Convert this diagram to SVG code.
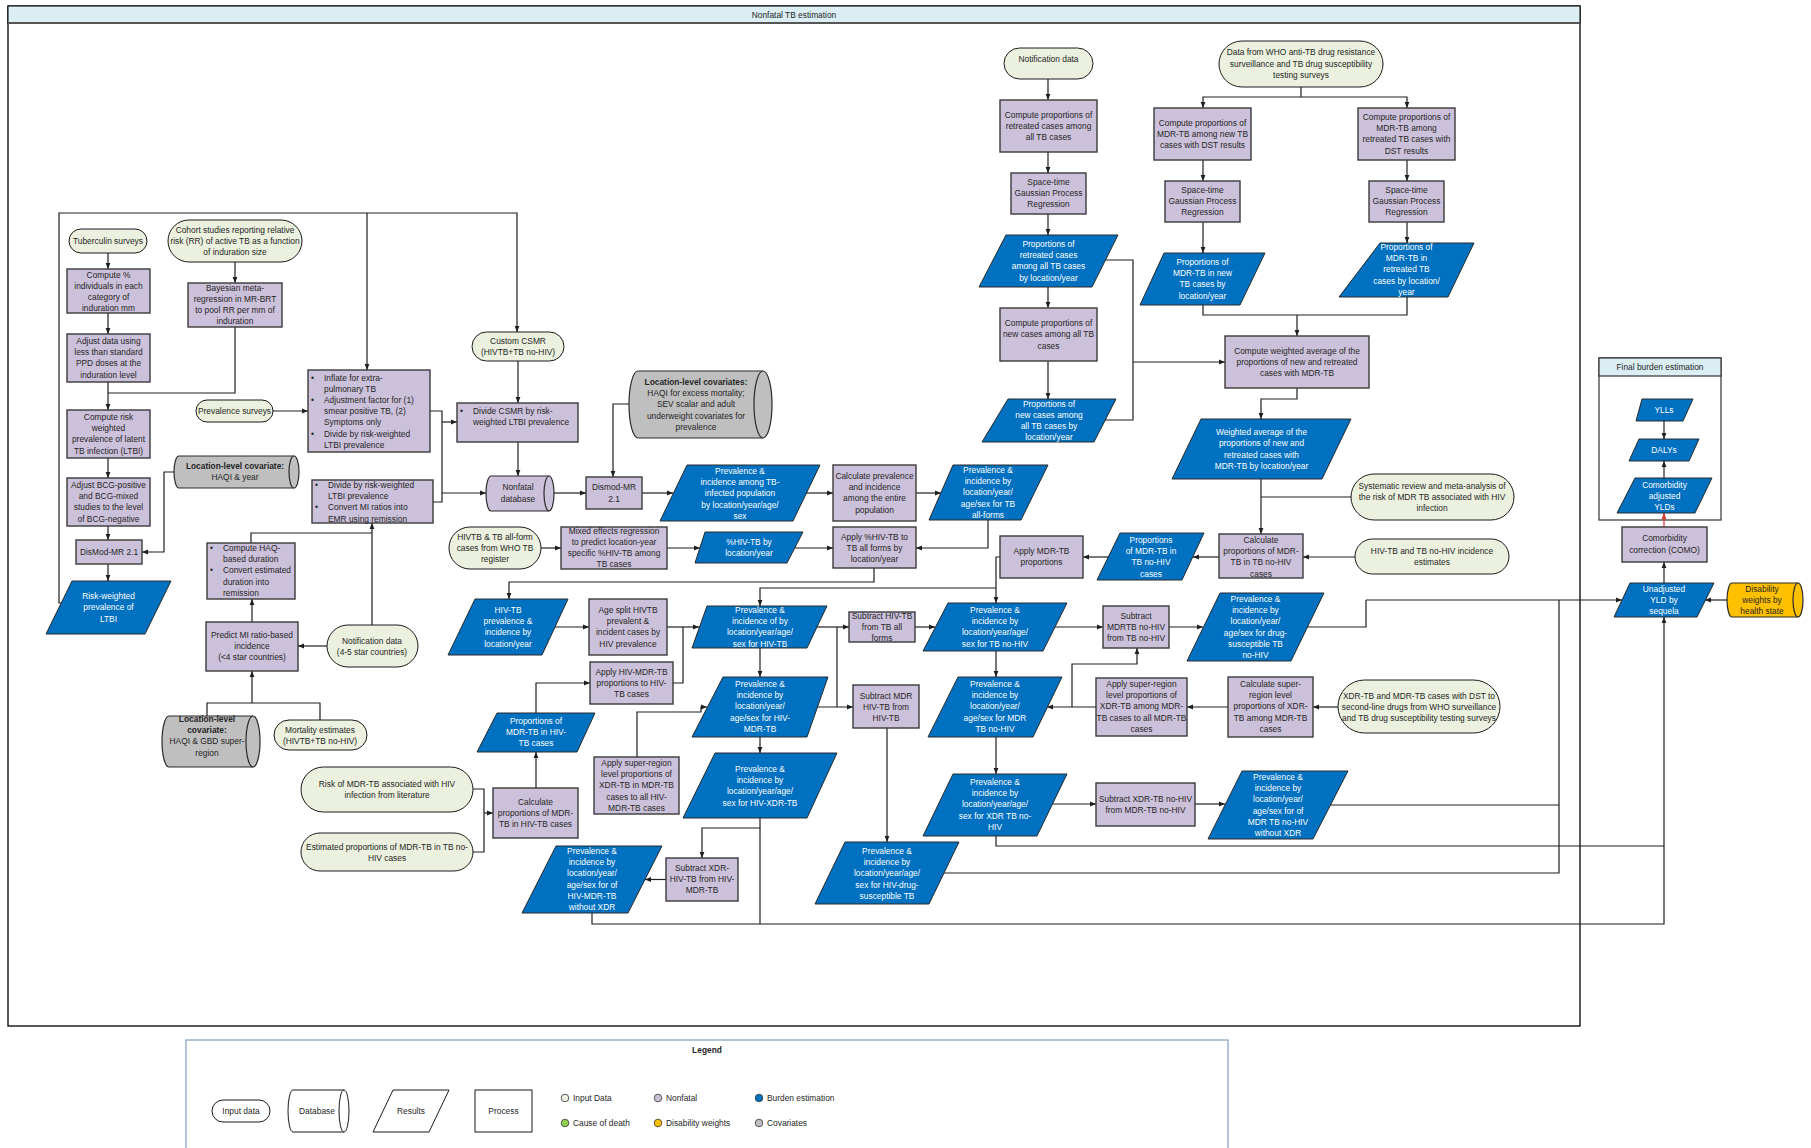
<svg xmlns="http://www.w3.org/2000/svg" width="1811" height="1148" viewBox="0 0 1811 1148">
<defs>
<style>
.inp{fill:#EBF1DE;stroke:#1a1a1a;stroke-width:1}
.proc{fill:#CCC1DA;stroke:#3a3a3a;stroke-width:1.4}
.res{fill:#0070C0;stroke:#2a2a2a;stroke-width:1}
.cov{fill:#BFBFBF;stroke:#2a2a2a;stroke-width:1.2}
.ndb{fill:#CCC1DA;stroke:#2a2a2a;stroke-width:1.2}
.dw{fill:#FFC000;stroke:#2a2a2a;stroke-width:1.2}
.lg{fill:#fff;stroke:#1a1a1a;stroke-width:1}
.t{font-family:"Liberation Sans",Arial,sans-serif;font-size:8.4px;fill:#262626;text-anchor:middle}
.w{fill:#fff}
.s{text-anchor:start}
.b{font-weight:bold}
.c{fill:none;stroke:#1f1f1f;stroke-width:1.2}
.a{marker-end:url(#ah)}
</style>
<marker id="ah" viewBox="0 0 10 10" refX="10" refY="5" markerWidth="6" markerHeight="6" markerUnits="userSpaceOnUse" orient="auto"><path d="M0,1 L10,5 L0,9 Z" fill="#1f1f1f"/></marker>
<marker id="ahr" viewBox="0 0 10 10" refX="10" refY="5" markerWidth="6" markerHeight="6" markerUnits="userSpaceOnUse" orient="auto"><path d="M0,1 L10,5 L0,9 Z" fill="#E0352B"/></marker>
</defs>
<rect x="0" y="0" width="1811" height="1148" fill="#fff"/>

<g id="frame">
<rect x="8" y="6" width="1572" height="1020" fill="none" stroke="#000" stroke-width="1.3"/>
<rect x="8" y="6" width="1572" height="17" fill="#DAEEF3" stroke="#000" stroke-width="1"/>
<line x1="8" y1="23" x2="1580" y2="23" stroke="#555" stroke-width="2"/>
<text class="t" x="794" y="18">Nonfatal TB estimation</text>
</g>

<g id="final-frame">
<rect x="1599" y="358" width="122" height="162" fill="none" stroke="#333" stroke-width="1.2"/>
<rect x="1599" y="358" width="122" height="18" fill="#DAEEF3" stroke="#333" stroke-width="1.2"/>
<text class="t" x="1660" y="370">Final burden estimation</text>
</g>

<g id="connectors">
<path class="c a" d="M108,253V269"/>
<path class="c a" d="M235,262V283"/>
<path class="c a" d="M108,313V334"/>
<path class="c a" d="M108,382V410"/>
<path class="c" d="M235,327V393H108"/>
<path class="c a" d="M108,458V478"/>
<path class="c a" d="M108,526V540"/>
<path class="c a" d="M174,472H164V552H142"/>
<path class="c a" d="M108,564V581"/>
<path class="c a" d="M61,603H59V213H517V332"/>
<path class="c a" d="M367,213V370"/>
<path class="c a" d="M273,411H308"/>
<path class="c" d="M430,411H442V502H433"/>
<path class="c a" d="M442,422H457"/>
<path class="c a" d="M442,493H486"/>
<path class="c a" d="M372,625V523"/>
<path class="c" d="M251,543V533H372"/>
<path class="c a" d="M252,622V599"/>
<path class="c a" d="M327,646H298"/>
<path class="c" d="M207,716V703H320V720"/>
<path class="c a" d="M252,703V671"/>
<path class="c a" d="M518,361V403"/>
<path class="c a" d="M518,442V476"/>
<path class="c a" d="M629,404H613V477"/>
<path class="c a" d="M554,493H586"/>
<path class="c a" d="M642,493H673"/>
<path class="c a" d="M806,493H833"/>
<path class="c a" d="M916,493H941"/>
<path class="c a" d="M988,520V548H916"/>
<path class="c a" d="M541,548H561"/>
<path class="c a" d="M667,548H700"/>
<path class="c a" d="M795,548H833"/>
<path class="c a" d="M874,568V582H509V599"/>
<path class="c a" d="M555,627H589"/>
<path class="c a" d="M667,627H699"/>
<path class="c" d="M673,683H683V627"/>
<path class="c a" d="M536,713V683H590"/>
<path class="c a" d="M536,788V752"/>
<path class="c" d="M473,789H484V852H473"/>
<path class="c a" d="M484,813H493"/>
<path class="c a" d="M1000,557H996V603"/>
<path class="c a" d="M996,588H760V606"/>
<path class="c a" d="M817,627H849"/>
<path class="c" d="M837,627V707"/>
<path class="c a" d="M817,707H853"/>
<path class="c a" d="M760,648V677"/>
<path class="c a" d="M637,757V712H701V707H707"/>
<path class="c a" d="M760,737V753"/>
<path class="c a" d="M760,818V828H702V858"/>
<path class="c" d="M760,828V924"/>
<path class="c a" d="M666,879.5H645"/>
<path class="c a" d="M592,913V924H1664V617"/>
<path class="c a" d="M887,728V842"/>
<path class="c" d="M944,873H1559V600"/>
<path class="c a" d="M1366,600H1622"/>
<path class="c a" d="M915,627H935"/>
<path class="c a" d="M1055,627H1103"/>
<path class="c a" d="M1169,627H1203"/>
<path class="c" d="M1307,627H1366V600"/>
<path class="c a" d="M996,651V677"/>
<path class="c a" d="M1096,707H1047"/>
<path class="c a" d="M1072,707V664H1137V648"/>
<path class="c a" d="M1228,707H1187"/>
<path class="c a" d="M1338,707H1313"/>
<path class="c a" d="M996,737V774"/>
<path class="c a" d="M1052,804H1096"/>
<path class="c a" d="M1195,804H1225"/>
<path class="c" d="M1330,805H1559"/>
<path class="c" d="M996,836V846H1664"/>
<path class="c a" d="M1048,79V100"/>
<path class="c a" d="M1048,152V173"/>
<path class="c a" d="M1048,214V235"/>
<path class="c a" d="M1048,287V308"/>
<path class="c a" d="M1048,361V399"/>
<path class="c" d="M1105,260H1133V420H1105"/>
<path class="c a" d="M1133,362H1225"/>
<path class="c" d="M1301,87V97"/>
<path class="c a" d="M1301,97H1203V108"/>
<path class="c a" d="M1301,97H1407V108"/>
<path class="c a" d="M1203,160V181"/>
<path class="c a" d="M1203,222V253"/>
<path class="c a" d="M1407,160V181"/>
<path class="c a" d="M1407,222V243"/>
<path class="c" d="M1203,305V315H1407V297"/>
<path class="c a" d="M1297,315V336"/>
<path class="c a" d="M1297,388V399H1261V419"/>
<path class="c a" d="M1261,479V534"/>
<path class="c" d="M1351,497H1261"/>
<path class="c a" d="M1355,557H1303"/>
<path class="c a" d="M1219,557H1193"/>
<path class="c a" d="M1108,557H1083"/>
<path class="c a" d="M1664,421V439"/>
<path class="c a" d="M1664,478V461"/>
<path d="M1664,527V513" fill="none" stroke="#E0352B" stroke-width="1.2" marker-end="url(#ahr)"/>
<path class="c a" d="M1664,583V562"/>
<path class="c a" d="M1727,600H1705"/>
</g>

<!-- Input data -->
<g id="n_tuberculin"><rect class="inp" x="69" y="229" width="78" height="24" rx="12"/><text class="t" x="108" y="244">Tuberculin surveys</text></g>
<g id="n_cohort"><rect class="inp" x="168" y="220" width="134" height="42" rx="21"/><text class="t" x="235" y="233">Cohort studies reporting relative<tspan x="235" dy="11">risk (RR) of active TB as a function</tspan><tspan x="235" dy="11">of induration size</tspan></text></g>
<g id="n_prevsurv"><rect class="inp" x="196" y="400" width="77" height="22" rx="11"/><text class="t" x="234.5" y="414">Prevalence surveys</text></g>
<g id="n_notif45"><rect class="inp" x="327" y="625" width="91" height="42" rx="21"/><text class="t" x="372" y="643.5">Notification data<tspan x="372" dy="11">(4-5 star countries)</tspan></text></g>
<g id="n_mort"><rect class="inp" x="274" y="720" width="93" height="30" rx="15"/><text class="t" x="320" y="732.5">Mortality estimates<tspan x="320" dy="11">(HIVTB+TB no-HIV)</tspan></text></g>
<g id="n_riskmdr"><rect class="inp" x="301" y="767" width="172" height="45" rx="22.5"/><text class="t" x="387" y="787">Risk of MDR-TB associated with HIV<tspan x="387" dy="11">infection from literature</tspan></text></g>
<g id="n_estprop"><rect class="inp" x="301" y="833" width="172" height="38" rx="19"/><text class="t" x="387" y="849.5">Estimated proportions of MDR-TB in TB no-<tspan x="387" dy="11">HIV cases</tspan></text></g>
<g id="n_csmr"><rect class="inp" x="472" y="332" width="92" height="29" rx="14.5"/><text class="t" x="518" y="344">Custom CSMR<tspan x="518" dy="11">(HIVTB+TB no-HIV)</tspan></text></g>
<g id="n_hivtbreg"><rect class="inp" x="449" y="527" width="92" height="42" rx="21"/><text class="t" x="495" y="540">HIVTB &amp; TB all-form<tspan x="495" dy="11">cases from WHO TB</tspan><tspan x="495" dy="11">register</tspan></text></g>
<g id="n_notif"><rect class="inp" x="1004" y="48" width="89" height="31" rx="15.5"/><text class="t" x="1048.5" y="62">Notification data</text></g>
<g id="n_who"><rect class="inp" x="1219" y="41" width="164" height="46" rx="23"/><text class="t" x="1301" y="55">Data from WHO anti-TB drug resistance<tspan x="1301" dy="11.5">surveillance and TB drug susceptibility</tspan><tspan x="1301" dy="11.5">testing surveys</tspan></text></g>
<g id="n_sysrev"><rect class="inp" x="1351" y="474" width="163" height="46" rx="23"/><text class="t" x="1432" y="489">Systematic review and meta-analysis of<tspan x="1432" dy="11">the risk of MDR TB associated with HIV</tspan><tspan x="1432" dy="11">infection</tspan></text></g>
<g id="n_hivest"><rect class="inp" x="1355" y="539" width="154" height="35" rx="17.5"/><text class="t" x="1432" y="554">HIV-TB and TB no-HIV incidence<tspan x="1432" dy="11">estimates</tspan></text></g>
<g id="n_xdrdata"><rect class="inp" x="1338" y="680" width="162" height="53" rx="26.5"/><text class="t" x="1419" y="699">XDR-TB and MDR-TB cases with DST to<tspan x="1419" dy="11">second-line drugs from WHO surveillance</tspan><tspan x="1419" dy="11">and TB drug susceptibility testing surveys</tspan></text></g>

<!-- Processes -->
<g id="p_compute_pct"><rect class="proc" x="67" y="269" width="83" height="44"/><text class="t" x="108.5" y="278">Compute %<tspan x="108.5" dy="11">individuals in each</tspan><tspan x="108.5" dy="11">category of</tspan><tspan x="108.5" dy="11">induration mm</tspan></text></g>
<g id="p_bayes"><rect class="proc" x="188" y="283" width="94" height="44"/><text class="t" x="235" y="291">Bayesian meta-<tspan x="235" dy="11">regression in MR-BRT</tspan><tspan x="235" dy="11">to pool RR per mm of</tspan><tspan x="235" dy="11">induration</tspan></text></g>
<g id="p_adjust_ppd"><rect class="proc" x="67" y="334" width="83" height="48"/><text class="t" x="108.5" y="344">Adjust data using<tspan x="108.5" dy="11.2">less than standard</tspan><tspan x="108.5" dy="11.2">PPD doses at the</tspan><tspan x="108.5" dy="11.2">induration level</tspan></text></g>
<g id="p_risk_ltbi"><rect class="proc" x="67" y="410" width="83" height="48"/><text class="t" x="108.5" y="420">Compute risk<tspan x="108.5" dy="11.2">weighted</tspan><tspan x="108.5" dy="11.2">prevalence of latent</tspan><tspan x="108.5" dy="11.2">TB infection (LTBI)</tspan></text></g>
<g id="p_bcg"><rect class="proc" x="67" y="478" width="83" height="48"/><text class="t" x="108.5" y="488">Adjust BCG-positive<tspan x="108.5" dy="11.2">and BCG-mixed</tspan><tspan x="108.5" dy="11.2">studies to the level</tspan><tspan x="108.5" dy="11.2">of BCG-negative</tspan></text></g>
<g id="p_dismod_ltbi"><rect class="proc" x="76" y="540" width="66" height="24"/><text class="t" x="109" y="555">DisMod-MR 2.1</text></g>
<g id="p_inflate"><rect class="proc" x="308" y="370" width="122" height="82"/><text class="t s" x="324" y="381">Inflate for extra-<tspan x="324" dy="11.1">pulmonary TB</tspan><tspan x="324" dy="11.1">Adjustment factor for (1)</tspan><tspan x="324" dy="11.1">smear positive TB, (2)</tspan><tspan x="324" dy="11.1">Symptoms only</tspan><tspan x="324" dy="11.1">Divide by risk-weighted</tspan><tspan x="324" dy="11.1">LTBI prevalence</tspan></text><text class="t s" x="311" y="381">•<tspan x="311" dy="22.2">•</tspan><tspan x="311" dy="33.3">•</tspan></text></g>
<g id="p_divide_mi"><rect class="proc" x="312" y="480" width="121" height="43"/><text class="t s" x="328" y="488">Divide by risk-weighted<tspan x="328" dy="11.2">LTBI prevalence</tspan><tspan x="328" dy="11.2">Convert MI ratios into</tspan><tspan x="328" dy="11.2">EMR using remission</tspan></text><text class="t s" x="315" y="488">•<tspan x="315" dy="22.4">•</tspan></text></g>
<g id="p_haq"><rect class="proc" x="207" y="543" width="88" height="56"/><text class="t s" x="223" y="551">Compute HAQ-<tspan x="223" dy="11.2">based duration</tspan><tspan x="223" dy="11.2">Convert estimated</tspan><tspan x="223" dy="11.2">duration into</tspan><tspan x="223" dy="11.2">remission</tspan></text><text class="t s" x="210" y="551">•<tspan x="210" dy="22.4">•</tspan></text></g>
<g id="p_predict_mi"><rect class="proc" x="206" y="622" width="92" height="49"/><text class="t" x="252" y="638">Predict MI ratio-based<tspan x="252" dy="11.2">incidence</tspan><tspan x="252" dy="11.2">(&lt;4 star countries)</tspan></text></g>
<g id="p_divide_csmr"><rect class="proc" x="457" y="403" width="121" height="39"/><text class="t s" x="473" y="414">Divide CSMR by risk-<tspan x="473" dy="11">weighted LTBI prevalence</tspan></text><text class="t s" x="460" y="414">•</text></g>
<g id="p_dismod"><rect class="proc" x="586" y="477" width="56" height="32"/><text class="t" x="614" y="490">Dismod-MR<tspan x="614" dy="12">2.1</tspan></text></g>
<g id="p_calc_prev"><rect class="proc" x="833" y="465" width="83" height="56"/><text class="t" x="874.5" y="479">Calculate prevalence<tspan x="874.5" dy="11.2">and incidence</tspan><tspan x="874.5" dy="11.2">among the entire</tspan><tspan x="874.5" dy="11.2">population</tspan></text></g>
<g id="p_mixed"><rect class="proc" x="561" y="527" width="106" height="42"/><text class="t" x="614" y="534">Mixed effects regression<tspan x="614" dy="11">to predict location-year</tspan><tspan x="614" dy="11">specific %HIV-TB among</tspan><tspan x="614" dy="11">TB cases</tspan></text></g>
<g id="p_apply_hiv"><rect class="proc" x="833" y="527" width="83" height="41"/><text class="t" x="874.5" y="540">Apply %HIV-TB to<tspan x="874.5" dy="11">TB all forms by</tspan><tspan x="874.5" dy="11">location/year</tspan></text></g>
<g id="p_agesplit"><rect class="proc" x="589" y="599" width="78" height="56"/><text class="t" x="628" y="613">Age split HIVTB<tspan x="628" dy="11.2">prevalent &amp;</tspan><tspan x="628" dy="11.2">incident cases by</tspan><tspan x="628" dy="11.2">HIV prevalence</tspan></text></g>
<g id="p_apply_hivmdr"><rect class="proc" x="590" y="662" width="83" height="42"/><text class="t" x="631.5" y="675">Apply HIV-MDR-TB<tspan x="631.5" dy="11.2">proportions to HIV-</tspan><tspan x="631.5" dy="11.2">TB cases</tspan></text></g>
<g id="p_calc_mdrhiv"><rect class="proc" x="493" y="788" width="85" height="50"/><text class="t" x="535.5" y="805">Calculate<tspan x="535.5" dy="11.2">proportions of MDR-</tspan><tspan x="535.5" dy="11.2">TB in HIV-TB cases</tspan></text></g>
<g id="p_super_hiv"><rect class="proc" x="594" y="757" width="85" height="57"/><text class="t" x="636.5" y="766">Apply super-region<tspan x="636.5" dy="11.2">level proportions of</tspan><tspan x="636.5" dy="11.2">XDR-TB in MDR-TB</tspan><tspan x="636.5" dy="11.2">cases to all HIV-</tspan><tspan x="636.5" dy="11.2">MDR-TB cases</tspan></text></g>
<g id="p_sub_xdrhiv"><rect class="proc" x="666" y="858" width="72" height="43"/><text class="t" x="702" y="871">Subtract XDR-<tspan x="702" dy="11.2">HIV-TB from HIV-</tspan><tspan x="702" dy="11.2">MDR-TB</tspan></text></g>
<g id="p_sub_hivtb"><rect class="proc" x="849" y="612" width="66" height="30"/><text class="t" x="882" y="619">Subtract HIV-TB<tspan x="882" dy="11">from TB all</tspan><tspan x="882" dy="11">forms</tspan></text></g>
<g id="p_sub_mdrhiv"><rect class="proc" x="853" y="685" width="66" height="43"/><text class="t" x="886" y="699">Subtract MDR<tspan x="886" dy="11.2">HIV-TB from</tspan><tspan x="886" dy="11.2">HIV-TB</tspan></text></g>
<g id="p_retreated"><rect class="proc" x="1000" y="100" width="97" height="52"/><text class="t" x="1048.5" y="118">Compute proportions of<tspan x="1048.5" dy="11.2">retreated cases among</tspan><tspan x="1048.5" dy="11.2">all TB cases</tspan></text></g>
<g id="p_stgpr1"><rect class="proc" x="1011" y="173" width="75" height="41"/><text class="t" x="1048.5" y="185">Space-time<tspan x="1048.5" dy="11.2">Gaussian Process</tspan><tspan x="1048.5" dy="11.2">Regression</tspan></text></g>
<g id="p_newcases"><rect class="proc" x="1000" y="308" width="97" height="53"/><text class="t" x="1048.5" y="326">Compute proportions of<tspan x="1048.5" dy="11.4">new cases among all TB</tspan><tspan x="1048.5" dy="11.4">cases</tspan></text></g>
<g id="p_mdrnew"><rect class="proc" x="1154" y="108" width="97" height="52"/><text class="t" x="1202.5" y="126">Compute proportions of<tspan x="1202.5" dy="11.2">MDR-TB among new TB</tspan><tspan x="1202.5" dy="11.2">cases with DST results</tspan></text></g>
<g id="p_stgpr2"><rect class="proc" x="1165" y="181" width="75" height="41"/><text class="t" x="1202.5" y="193">Space-time<tspan x="1202.5" dy="11.2">Gaussian Process</tspan><tspan x="1202.5" dy="11.2">Regression</tspan></text></g>
<g id="p_mdrret"><rect class="proc" x="1358" y="108" width="97" height="52"/><text class="t" x="1406.5" y="120">Compute proportions of<tspan x="1406.5" dy="11.2">MDR-TB among</tspan><tspan x="1406.5" dy="11.2">retreated TB cases with</tspan><tspan x="1406.5" dy="11.2">DST results</tspan></text></g>
<g id="p_stgpr3"><rect class="proc" x="1369" y="181" width="75" height="41"/><text class="t" x="1406.5" y="193">Space-time<tspan x="1406.5" dy="11.2">Gaussian Process</tspan><tspan x="1406.5" dy="11.2">Regression</tspan></text></g>
<g id="p_weighted"><rect class="proc" x="1225" y="336" width="144" height="52"/><text class="t" x="1297" y="354">Compute weighted average of the<tspan x="1297" dy="11.2">proportions of new and retreated</tspan><tspan x="1297" dy="11.2">cases with MDR-TB</tspan></text></g>
<g id="p_calc_nohiv"><rect class="proc" x="1219" y="534" width="84" height="44"/><text class="t" x="1261" y="543">Calculate<tspan x="1261" dy="11.2">proportions of MDR-</tspan><tspan x="1261" dy="11.2">TB in TB no-HIV</tspan><tspan x="1261" dy="11.2">cases</tspan></text></g>
<g id="p_apply_mdr"><rect class="proc" x="1000" y="536" width="83" height="42"/><text class="t" x="1041.5" y="554">Apply MDR-TB<tspan x="1041.5" dy="11.2">proportions</tspan></text></g>
<g id="p_sub_mdrnohiv"><rect class="proc" x="1103" y="606" width="66" height="42"/><text class="t" x="1136" y="619">Subtract<tspan x="1136" dy="11.2">MDRTB no-HIV</tspan><tspan x="1136" dy="11.2">from TB no-HIV</tspan></text></g>
<g id="p_super_nohiv"><rect class="proc" x="1096" y="678" width="91" height="58"/><text class="t" x="1141.5" y="687">Apply super-region<tspan x="1141.5" dy="11.2">level proportions of</tspan><tspan x="1141.5" dy="11.2">XDR-TB among MDR-</tspan><tspan x="1141.5" dy="11.2">TB cases to all MDR-TB</tspan><tspan x="1141.5" dy="11.2">cases</tspan></text></g>
<g id="p_calc_super"><rect class="proc" x="1228" y="677" width="85" height="60"/><text class="t" x="1270.5" y="687">Calculate super-<tspan x="1270.5" dy="11.2">region level</tspan><tspan x="1270.5" dy="11.2">proportions of XDR-</tspan><tspan x="1270.5" dy="11.2">TB among MDR-TB</tspan><tspan x="1270.5" dy="11.2">cases</tspan></text></g>
<g id="p_sub_xdrnohiv"><rect class="proc" x="1096" y="783" width="99" height="43"/><text class="t" x="1145.5" y="802">Subtract XDR-TB no-HIV<tspan x="1145.5" dy="11.2">from MDR-TB no-HIV</tspan></text></g>
<g id="p_como"><rect class="proc" x="1622" y="527" width="85" height="35"/><text class="t" x="1664.5" y="541">Comorbidity<tspan x="1664.5" dy="12">correction (COMO)</tspan></text></g>

<!-- Results -->
<g id="r_ltbi"><polygon class="res" points="72,581 171,581 145,634 46,634"/><text class="t w" x="108.5" y="599">Risk-weighted<tspan x="108.5" dy="11.4">prevalence of</tspan><tspan x="108.5" dy="11.4">LTBI</tspan></text></g>
<g id="r_tbinf"><polygon class="res" points="687,465 820,465 793,521 660,521"/><text class="t w" x="740" y="474">Prevalence &amp;<tspan x="740" dy="11.2">incidence among TB-</tspan><tspan x="740" dy="11.2">infected population</tspan><tspan x="740" dy="11.2">by location/year/age/</tspan><tspan x="740" dy="11.2">sex</tspan></text></g>
<g id="r_allforms"><polygon class="res" points="953,465 1048,465 1021,520 929,520"/><text class="t w" x="988" y="473">Prevalence &amp;<tspan x="988" dy="11.2">incidence by</tspan><tspan x="988" dy="11.2">location/year/</tspan><tspan x="988" dy="11.2">age/sex for TB</tspan><tspan x="988" dy="11.2">all-forms</tspan></text></g>
<g id="r_pcthiv"><polygon class="res" points="705,532 803,532 787,563 695,563"/><text class="t w" x="749" y="545">%HIV-TB by<tspan x="749" dy="11">location/year</tspan></text></g>
<g id="r_hivtb"><polygon class="res" points="475,599 568,599 542,655 448,655"/><text class="t w" x="508" y="613">HIV-TB<tspan x="508" dy="11.2">prevalence &amp;</tspan><tspan x="508" dy="11.2">incidence by</tspan><tspan x="508" dy="11.2">location/year</tspan></text></g>
<g id="r_hivtb_age"><polygon class="res" points="707,606 827,606 807,648 692,648"/><text class="t w" x="760" y="613">Prevalence &amp;<tspan x="760" dy="11.2">incidence of by</tspan><tspan x="760" dy="11.2">location/year/age/</tspan><tspan x="760" dy="11.2">sex for HIV-TB</tspan></text></g>
<g id="r_mdr_in_hiv"><polygon class="res" points="497,713 595,713 577,752 477,752"/><text class="t w" x="536" y="724">Proportions of<tspan x="536" dy="11.2">MDR-TB in HIV-</tspan><tspan x="536" dy="11.2">TB cases</tspan></text></g>
<g id="r_hivmdr"><polygon class="res" points="723,677 828,677 807,737 692,737"/><text class="t w" x="760" y="687">Prevalence &amp;<tspan x="760" dy="11.2">incidence by</tspan><tspan x="760" dy="11.2">location/year/</tspan><tspan x="760" dy="11.2">age/sex for HIV-</tspan><tspan x="760" dy="11.2">MDR-TB</tspan></text></g>
<g id="r_hivxdr"><polygon class="res" points="715,753 837,753 807,818 683,818"/><text class="t w" x="760" y="772">Prevalence &amp;<tspan x="760" dy="11.2">incidence by</tspan><tspan x="760" dy="11.2">location/year/age/</tspan><tspan x="760" dy="11.2">sex for HIV-XDR-TB</tspan></text></g>
<g id="r_hivmdr_noxdr"><polygon class="res" points="556,846 662,846 628,913 522,913"/><text class="t w" x="592" y="854">Prevalence &amp;<tspan x="592" dy="11.2">incidence by</tspan><tspan x="592" dy="11.2">location/year/</tspan><tspan x="592" dy="11.2">age/sex for of</tspan><tspan x="592" dy="11.2">HIV-MDR-TB</tspan><tspan x="592" dy="11.2">without XDR</tspan></text></g>
<g id="r_hivds"><polygon class="res" points="845,842 959,842 929,904 815,904"/><text class="t w" x="887" y="854">Prevalence &amp;<tspan x="887" dy="11.2">incidence by</tspan><tspan x="887" dy="11.2">location/year/age/</tspan><tspan x="887" dy="11.2">sex for HIV-drug-</tspan><tspan x="887" dy="11.2">susceptible TB</tspan></text></g>
<g id="r_retreated"><polygon class="res" points="1006,235 1118,235 1092,287 979,287"/><text class="t w" x="1048.5" y="247">Proportions of<tspan x="1048.5" dy="11.2">retreated cases</tspan><tspan x="1048.5" dy="11.2">among all TB cases</tspan><tspan x="1048.5" dy="11.2">by location/year</tspan></text></g>
<g id="r_new"><polygon class="res" points="1008,399 1116,399 1094,442 982,442"/><text class="t w" x="1049" y="407">Proportions of<tspan x="1049" dy="11">new cases among</tspan><tspan x="1049" dy="11">all TB cases by</tspan><tspan x="1049" dy="11">location/year</tspan></text></g>
<g id="r_mdrnew"><polygon class="res" points="1164,253 1265,253 1240,305 1140,305"/><text class="t w" x="1202.5" y="265">Proportions of<tspan x="1202.5" dy="11.2">MDR-TB in new</tspan><tspan x="1202.5" dy="11.2">TB cases by</tspan><tspan x="1202.5" dy="11.2">location/year</tspan></text></g>
<g id="r_mdrret"><polygon class="res" points="1380,243 1474,243 1448,297 1339,297"/><text class="t w" x="1406.5" y="250">Proportions of<tspan x="1406.5" dy="11.2">MDR-TB in</tspan><tspan x="1406.5" dy="11.2">retreated TB</tspan><tspan x="1406.5" dy="11.2">cases by location/</tspan><tspan x="1406.5" dy="11.2">year</tspan></text></g>
<g id="r_weighted"><polygon class="res" points="1201,419 1351,419 1322,479 1172,479"/><text class="t w" x="1261.5" y="435">Weighted average of the<tspan x="1261.5" dy="11.3">proportions of new and</tspan><tspan x="1261.5" dy="11.3">retreated cases with</tspan><tspan x="1261.5" dy="11.3">MDR-TB by location/year</tspan></text></g>
<g id="r_mdr_nohiv_prop"><polygon class="res" points="1120,533 1204,533 1182,580 1097,580"/><text class="t w" x="1151" y="543">Proportions<tspan x="1151" dy="11.2">of MDR-TB in</tspan><tspan x="1151" dy="11.2">TB no-HIV</tspan><tspan x="1151" dy="11.2">cases</tspan></text></g>
<g id="r_tbnohiv"><polygon class="res" points="948,603 1067,603 1043,651 923,651"/><text class="t w" x="995" y="613">Prevalence &amp;<tspan x="995" dy="11.2">incidence by</tspan><tspan x="995" dy="11.2">location/year/age/</tspan><tspan x="995" dy="11.2">sex for TB no-HIV</tspan></text></g>
<g id="r_dsnohiv"><polygon class="res" points="1220,593 1324,593 1291,661 1187,661"/><text class="t w" x="1255.5" y="602">Prevalence &amp;<tspan x="1255.5" dy="11.2">incidence by</tspan><tspan x="1255.5" dy="11.2">location/year/</tspan><tspan x="1255.5" dy="11.2">age/sex for drug-</tspan><tspan x="1255.5" dy="11.2">susceptible TB</tspan><tspan x="1255.5" dy="11.2">no-HIV</tspan></text></g>
<g id="r_mdrnohiv"><polygon class="res" points="958,677 1062,677 1033,737 928,737"/><text class="t w" x="995" y="687">Prevalence &amp;<tspan x="995" dy="11.2">incidence by</tspan><tspan x="995" dy="11.2">location/year/</tspan><tspan x="995" dy="11.2">age/sex for MDR</tspan><tspan x="995" dy="11.2">TB no-HIV</tspan></text></g>
<g id="r_xdrnohiv"><polygon class="res" points="953,774 1067,774 1037,836 923,836"/><text class="t w" x="995" y="785">Prevalence &amp;<tspan x="995" dy="11.2">incidence by</tspan><tspan x="995" dy="11.2">location/year/age/</tspan><tspan x="995" dy="11.2">sex for XDR TB no-</tspan><tspan x="995" dy="11.2">HIV</tspan></text></g>
<g id="r_mdrnohiv_noxdr"><polygon class="res" points="1242,771 1348,771 1313,839 1208,839"/><text class="t w" x="1278" y="780">Prevalence &amp;<tspan x="1278" dy="11.2">incidence by</tspan><tspan x="1278" dy="11.2">location/year/</tspan><tspan x="1278" dy="11.2">age/sex for of</tspan><tspan x="1278" dy="11.2">MDR TB no-HIV</tspan><tspan x="1278" dy="11.2">without XDR</tspan></text></g>
<g id="r_ylls"><polygon class="res" points="1642,399 1693,399 1683,421 1636,421"/><text class="t w" x="1664" y="413">YLLs</text></g>
<g id="r_dalys"><polygon class="res" points="1639,439 1699,439 1689,461 1629,461"/><text class="t w" x="1664" y="453">DALYs</text></g>
<g id="r_yld_adj"><polygon class="res" points="1635,478 1712,478 1695,513 1617,513"/><text class="t w" x="1664.5" y="488">Comorbidity<tspan x="1664.5" dy="11">adjusted</tspan><tspan x="1664.5" dy="11">YLDs</tspan></text></g>
<g id="r_yld_unadj"><polygon class="res" points="1630,583 1714,583 1697,617 1614,617"/><text class="t w" x="1664" y="592">Unadjusted<tspan x="1664" dy="11">YLD by</tspan><tspan x="1664" dy="11">sequela</tspan></text></g>

<!-- Databases / covariates -->
<g id="d_cov_haq_year"><path class="cov" d="M179,456H294A5,16 0 0 1 294,488H179A5,16 0 0 1 179,456Z"/><path class="cov" d="M294,456A5,16 0 0 0 294,488" fill="none"/><text class="t" x="235" y="469"><tspan class="b">Location-level covariate:</tspan><tspan x="235" dy="11.2">HAQI &amp; year</tspan></text></g>
<g id="d_cov_haq_gbd"><path class="cov" d="M169,716H253A7,25.5 0 0 1 253,767H169A7,25.5 0 0 1 169,716Z"/><path class="cov" d="M253,716A7,25.5 0 0 0 253,767" fill="none"/><text class="t" x="207" y="722"><tspan class="b">Location-level</tspan><tspan class="b" x="207" dy="11.2">covariate:</tspan><tspan x="207" dy="11.2">HAQI &amp; GBD super-</tspan><tspan x="207" dy="11.2">region</tspan></text></g>
<g id="d_cov_mid"><path class="cov" d="M638,371H763A9,33.5 0 0 1 763,438H638A9,33.5 0 0 1 638,371Z"/><path class="cov" d="M763,371A9,33.5 0 0 0 763,438" fill="none"/><text class="t" x="696" y="385"><tspan class="b">Location-level covariates:</tspan><tspan x="696" dy="11.2">HAQI for excess mortality;</tspan><tspan x="696" dy="11.2">SEV scalar and adult</tspan><tspan x="696" dy="11.2">underweight covariates for</tspan><tspan x="696" dy="11.2">prevalence</tspan></text></g>
<g id="d_nonfatal"><path class="ndb" d="M491,476H549A5,17.5 0 0 1 549,511H491A5,17.5 0 0 1 491,476Z"/><path class="ndb" d="M549,476A5,17.5 0 0 0 549,511" fill="none"/><text class="t" x="518" y="490">Nonfatal<tspan x="518" dy="12">database</tspan></text></g>
<g id="d_dw"><path class="dw" d="M1732,583H1798A5,17 0 0 1 1798,617H1732A5,17 0 0 1 1732,583Z"/><path class="dw" d="M1798,583A5,17 0 0 0 1798,617" fill="none"/><text class="t" x="1762" y="592">Disability<tspan x="1762" dy="11">weights by</tspan><tspan x="1762" dy="11">health state</tspan></text></g>

<!-- Legend -->
<g id="legend">
<rect x="186" y="1040" width="1042" height="130" fill="none" stroke="#7f9fbf" stroke-width="1.2"/>
<text class="t b" x="707" y="1053">Legend</text>
<rect class="lg" x="212" y="1100" width="58" height="22" rx="11"/><text class="t" x="241" y="1114">Input data</text>
<path class="lg" d="M293,1090H344A5,21 0 0 1 344,1132H293A5,21 0 0 1 293,1090Z"/><path class="lg" d="M344,1090A5,21 0 0 0 344,1132" fill="none"/><text class="t" x="317" y="1114">Database</text>
<polygon class="lg" points="393,1090 449,1090 429,1132 373,1132"/><text class="t" x="411" y="1114">Results</text>
<rect class="lg" x="475" y="1090" width="57" height="42"/><text class="t" x="503.5" y="1114">Process</text>
<circle cx="565" cy="1098" r="3.8" fill="#EBF1DE" stroke="#333" stroke-width="0.8"/><text class="t s" x="573" y="1101">Input Data</text>
<circle cx="658" cy="1098" r="3.8" fill="#CCC1DA" stroke="#333" stroke-width="0.8"/><text class="t s" x="666" y="1101">Nonfatal</text>
<circle cx="759" cy="1098" r="3.8" fill="#0070C0" stroke="#333" stroke-width="0.8"/><text class="t s" x="767" y="1101">Burden estimation</text>
<circle cx="565" cy="1123" r="3.8" fill="#92D050" stroke="#333" stroke-width="0.8"/><text class="t s" x="573" y="1126">Cause of death</text>
<circle cx="658" cy="1123" r="3.8" fill="#FFC000" stroke="#333" stroke-width="0.8"/><text class="t s" x="666" y="1126">Disability weights</text>
<circle cx="759" cy="1123" r="3.8" fill="#BFBFBF" stroke="#333" stroke-width="0.8"/><text class="t s" x="767" y="1126">Covariates</text>
</g>
</svg>
